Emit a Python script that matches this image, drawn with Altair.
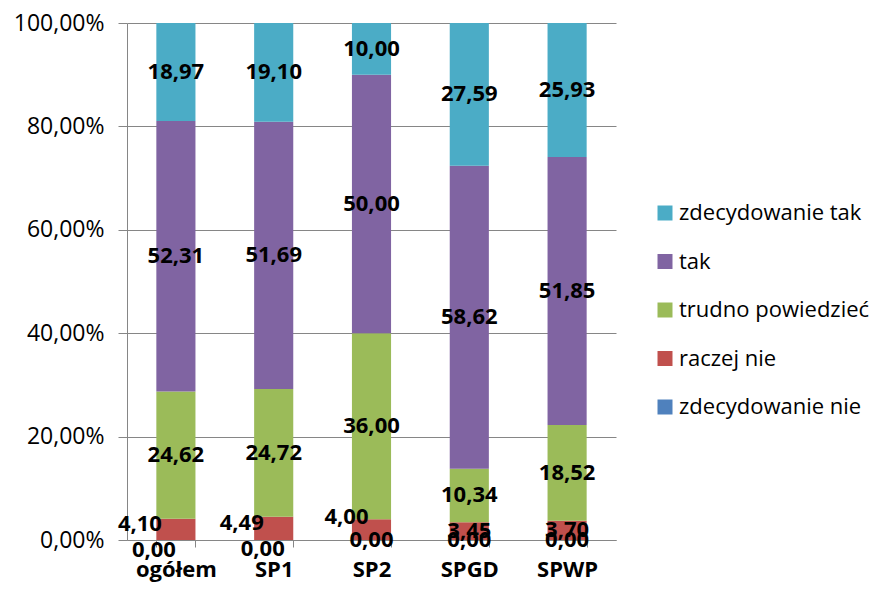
import altair as alt
import pandas as pd

categories = ["ogółem", "SP1", "SP2", "SPGD", "SPWP"]
series = ["zdecydowanie nie", "raczej nie", "trudno powiedzieć", "tak", "zdecydowanie tak"]
zdecydowanie_nie = [0.00, 0.00, 0.00, 0.00, 0.00]
raczej_nie = [4.10, 4.49, 4.00, 3.45, 3.70]
trudno_powiedziec = [24.62, 24.72, 36.00, 10.34, 18.52]
tak = [52.31, 51.69, 50.00, 58.62, 51.85]
zdecydowanie_tak = [18.97, 19.10, 10.00, 27.59, 25.93]

values = [zdecydowanie_nie, raczej_nie, trudno_powiedziec, tak, zdecydowanie_tak]
colors = ["#4F81BD", "#C0504D", "#9BBB59", "#8064A2", "#4BACC6"]

rows = []
for si, (s, vals) in enumerate(zip(series, values)):
    for ci, (c, v) in enumerate(zip(categories, vals)):
        rows.append({"category": c, "series": s, "value": v, "order": si})
df = pd.DataFrame(rows)

FONT = "Open Sans"

base = (
    alt.Chart(df)
    .transform_stack(stack="value", as_=["y0", "y1"], groupby=["category"],
                     sort=[alt.SortField("order", "ascending")])
    .transform_calculate(
        mid="(datum.y0 + datum.y1) / 2",
        label="replace(format(datum.value, '.2f'), '.', ',')",
    )
)

x_scale = alt.Scale(paddingInner=0.6, paddingOuter=0.3)
y_scale = alt.Scale(domain=[0, 100], nice=False)

x_enc = alt.X(
    "category:N", sort=categories, title=None, scale=x_scale,
    axis=alt.Axis(labelAngle=0, labelFont=FONT, labelFontSize=22, labelFontWeight="bold",
                  labelColor="#000000", labelPadding=12, tickSize=7, tickBand="extent",
                  domainColor="#868686", tickColor="#868686", grid=False),
)

bars = base.mark_bar().encode(
    x=x_enc,
    y=alt.Y("y0:Q", title=None, scale=y_scale,
            axis=alt.Axis(values=[0, 20, 40, 60, 80, 100],
                          labelExpr="replace(format(datum.value, '.2f'), '.', ',') + '%'",
                          labelFont=FONT, labelFontSize=23, labelColor="#000000",
                          labelPadding=14, tickSize=9, domainColor="#868686",
                          tickColor="#868686", grid=True, gridColor="#868686")),
    y2="y1:Q",
    color=alt.Color("series:N",
                    scale=alt.Scale(domain=series[::-1], range=colors[::-1]),
                    legend=alt.Legend(title=None, orient="none", legendX=527, legendY=179,
                                      symbolType="square", symbolSize=225, symbolStrokeWidth=0,
                                      labelFont=FONT, labelFontSize=22, labelColor="#000000",
                                      labelLimit=0, rowPadding=26.5, labelOffset=3, padding=0)),
    order=alt.Order("order:Q"),
)

special = {
    ("ogółem", "raczej nie"): (-36, -5),
    ("ogółem", "zdecydowanie nie"): (-22, 10),
    ("SP1", "raczej nie"): (-32, -5),
    ("SP1", "zdecydowanie nie"): (-11, 9),
    ("SP2", "raczej nie"): (-25, -13),
}

def is_special_expr():
    parts = [f"(datum.category == '{c}' && datum.series == '{s}')" for (c, s) in special]
    return " || ".join(parts)

text_kw = dict(font=FONT, fontSize=22, fontWeight="bold", color="#000000",
               align="center", baseline="middle")

def text_enc():
    return dict(
        x=alt.X("category:N", sort=categories, title=None),
        y=alt.Y("mid:Q", title=None),
        text="label:N",
    )

labels = base.transform_filter(f"!({is_special_expr()})").mark_text(**text_kw).encode(**text_enc())

layers = [bars, labels]
for (c, s), (dx, dy) in special.items():
    layers.append(
        base.transform_filter(f"datum.category == '{c}' && datum.series == '{s}'")
        .mark_text(dx=dx, dy=dy, **text_kw)
        .encode(**text_enc())
    )

chart = (
    alt.layer(*layers)
    .properties(width=489, height=517, background="#ffffff",
                view=alt.ViewBackground(stroke=None, strokeWidth=0),
                autosize=alt.AutoSizeParams(type="none"),
                padding={"left": 119, "top": 15, "right": 258, "bottom": 45})
    .configure_view(stroke=None, strokeWidth=0)
)

chart.save("out.html", embed_options={"renderer": "svg", "actions": False})
